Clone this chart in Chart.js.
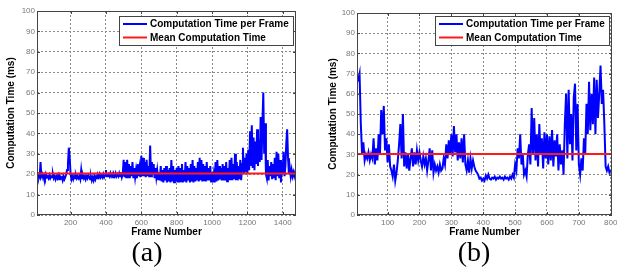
<!DOCTYPE html>
<html>
<head>
<meta charset="utf-8">
<script src="https://cdn.jsdelivr.net/npm/chart.js@4/dist/chart.umd.min.js"></script>
<style>
  html, body { margin: 0; padding: 0; background: #fff; overflow: hidden; }
  body { width: 617px; height: 269px; position: relative; }
  .wrap { position: absolute; top: 0; height: 243px; }
  #wrapA { left: 0; width: 308px; }
  #wrapB { left: 308px; width: 320px; }
  .cap { position: absolute; top: 238px; line-height: 28px; font-family: "Liberation Serif", serif; font-size: 28px; color: #000; transform: translateX(-50%); }
</style>
</head>
<body>
<div class="wrap" id="wrapA"><canvas id="chartA" width="308" height="243"></canvas></div>
<div class="wrap" id="wrapB"><canvas id="chartB" width="320" height="243"></canvas></div>
<div class="cap" style="left:147px">(a)</div>
<div class="cap" style="left:474px">(b)</div>
<script>
// (a): one sample every 5 frames, starting at frame 10
const startA = 10, stepA = 5;
const timesA = [
  21, 19, 19.5, 18.5, 26, 19, 20, 18, 19.5, 18, 20, 18.5, 19, 18, 19.5, 18, 19, 18.5, 20, 18,
  19, 17.5, 19, 18, 19.5, 17.5, 19, 18, 18.5, 17, 19, 17.5, 18.5, 20, 22, 25, 33, 28, 20, 17.5,
  19, 17.5, 19, 18, 19.5, 18, 19, 18, 19, 17.5, 22, 18, 19.5, 18, 19, 17.5, 19, 18, 19.5, 18.5,
  17.5, 19, 17, 18.5, 17, 19, 17.5, 19, 18, 19.5, 18.5, 20, 18.5, 19.5, 18.5, 20, 18.5, 19.5, 22, 19,
  19, 20, 19, 20.5, 19, 20, 18.5, 20, 19, 20.5, 19, 20, 19, 20.5, 19, 21, 18.5, 20, 27, 18.5,
  26, 18, 27, 18.5, 25, 18, 24, 19, 26, 18, 23, 18.5, 22, 18, 25, 19, 23, 18.5, 29, 19,
  28, 19, 26, 18.5, 27, 19, 24, 18.5, 34, 19, 26, 20, 25, 18, 23, 18.5, 22, 17.5, 21, 17,
  24, 16.5, 22, 16, 23, 17, 24, 16, 22, 16.5, 23, 16, 27, 16.5, 24, 16, 22, 16.5, 23, 16,
  24, 16, 23, 16.5, 25, 16, 22, 16.5, 26, 16, 24, 17, 23, 16, 25, 16.5, 27, 16, 24, 16.5,
  23, 17, 26, 16.5, 28, 17, 27, 16.5, 25, 17, 24, 16.5, 26, 17, 23, 17, 24, 16, 21, 16,
  20, 16, 26, 16.5, 27, 17, 24, 17.5, 23, 17, 25, 17, 24, 17, 26, 16.5, 23, 17, 27, 17,
  28, 17, 25, 17.5, 30, 17, 26, 17, 24, 17.5, 27, 17, 25, 33, 20, 28, 21, 30, 20, 32,
  22, 41, 24, 44, 23, 38, 22, 36, 25, 42, 24, 37, 26, 48, 27, 44, 60, 30, 45, 20,
  18, 27, 17, 24, 19, 26, 17.5, 25, 18, 28, 17, 31, 19, 30, 18, 27, 16, 26, 20, 31,
  19, 24, 35, 42, 28, 20, 23, 19, 22, 19, 21, 19, 21, 20
];
const meanA = 20.3;
const xRangeA = [10, 1475];
const xTicksA = [200, 400, 600, 800, 1000, 1200, 1400];

// (b): one sample every 4 frames, starting at frame 4
const startB = 4, stepB = 4;
const timesB = [
  68, 67, 70, 45, 30, 36, 27, 30, 28, 31, 27, 30, 28, 38, 25, 33, 27, 40, 30, 52, 40, 54, 32, 38, 26,
  35, 24, 22, 19, 25, 17, 21, 27, 35, 45, 28, 50, 24, 31, 23, 30, 22, 28, 33, 24, 31, 25, 32, 27, 31,
  27, 24, 29, 25, 28, 22, 27, 33, 22, 32, 21, 25, 22, 24, 21, 25, 22, 23, 28, 25, 35, 28, 37, 30, 40,
  29, 44, 31, 40, 27, 36, 28, 38, 26, 40, 25, 22, 27, 21, 28, 23, 27, 24, 22, 21, 20, 18, 18.5, 17, 18,
  17, 19.5, 18, 20, 18, 17.5, 18.5, 18, 19, 17.5, 18.5, 18, 19, 18, 18.5, 17.5, 19, 18, 18.5, 17.5, 19, 18, 20, 18.5, 25,
  22, 33, 28, 40, 25, 30, 20, 22, 19, 30, 35, 25, 53, 30, 48, 27, 40, 24, 45, 30, 38, 23, 41, 28, 40,
  25, 39, 27, 42, 24, 37, 29, 40, 22, 35, 25, 32, 20, 45, 60, 28, 62, 35, 50, 27, 58, 65, 32, 55, 25,
  20, 28, 22, 38, 30, 55, 40, 66, 42, 60, 45, 68, 40, 67, 48, 60, 74, 55, 62, 45, 24, 22, 24, 21, 22
];
const meanB = 30.2;
const xRangeB = [4, 804];
const xTicksB = [100, 200, 300, 400, 500, 600, 700, 800];

const yTicks = [0, 10, 20, 30, 40, 50, 60, 70, 80, 90, 100];
const seriesLabels = ['Computation Time per Frame', 'Mean Computation Time'];

const axesBox = {
  id: 'axesBox',
  afterDatasetsDraw(chart) {
    const ctx = chart.ctx;
    const a = chart.chartArea;
    const sx = chart.scales.x, sy = chart.scales.y;
    ctx.save();
    ctx.strokeStyle = '#444';
    ctx.lineWidth = 1;
    ctx.strokeRect(Math.round(a.left) + 0.5, Math.round(a.top) + 0.5,
      Math.round(a.right - a.left) - 1, Math.round(a.bottom - a.top) - 1);
    ctx.beginPath();
    sx.ticks.forEach(t => {
      const px = Math.round(sx.getPixelForValue(t.value)) + 0.5;
      ctx.moveTo(px, a.bottom); ctx.lineTo(px, a.bottom - 3);
      ctx.moveTo(px, a.top); ctx.lineTo(px, a.top + 3);
    });
    sy.ticks.forEach(t => {
      const py = Math.round(sy.getPixelForValue(t.value)) + 0.5;
      ctx.moveTo(a.left, py); ctx.lineTo(a.left + 3, py);
      ctx.moveTo(a.right, py); ctx.lineTo(a.right - 3, py);
    });
    ctx.stroke();
    ctx.restore();
  }
};

const boxLegend = {
  id: 'boxLegend',
  afterDatasetsDraw(chart, args, opts) {
    const ctx = chart.ctx;
    const a = chart.chartArea;
    const sets = chart.data.datasets;
    ctx.save();
    ctx.font = 'bold 10px "Liberation Sans", Arial, sans-serif';
    let tw = 0;
    sets.forEach(d => { tw = Math.max(tw, ctx.measureText(d.label).width); });
    const w = Math.round(31 + tw + 4), h = 29;
    const x = Math.round(a.right - opts.right - w), y = Math.round(a.top + opts.top);
    ctx.fillStyle = '#fff';
    ctx.fillRect(x, y, w, h);
    ctx.strokeStyle = '#444';
    ctx.lineWidth = 1;
    ctx.strokeRect(x + 0.5, y + 0.5, w, h);
    sets.forEach((d, i) => {
      const ly = y + 8 + i * 13.5;
      ctx.strokeStyle = d.borderColor;
      ctx.lineWidth = 2;
      ctx.beginPath();
      ctx.moveTo(x + 4, ly);
      ctx.lineTo(x + 28, ly);
      ctx.stroke();
      ctx.fillStyle = '#000';
      ctx.textBaseline = 'middle';
      ctx.fillText(d.label, x + 31, ly + 0.5);
    });
    ctx.restore();
  }
};

function makeChart(id, start, step, values, mean, xRange, xTicks, cfg) {
  const points = values.map((v, i) => ({ x: start + i * step, y: v }));
  const meanLine = [{ x: xRange[0], y: mean }, { x: xRange[1], y: mean }];
  const tickFont = { family: '"Liberation Sans", Arial, sans-serif', size: 8 };
  const titleFont = { family: '"Liberation Sans", Arial, sans-serif', size: 10, weight: 'bold' };
  const ctx = document.getElementById(id).getContext('2d');
  return new Chart(ctx, {
    type: 'line',
    data: {
      datasets: [{
        label: seriesLabels[0],
        data: points,
        borderColor: '#0000ff',
        borderWidth: 2,
        pointRadius: 0,
        tension: 0,
        order: 2
      }, {
        label: seriesLabels[1],
        data: meanLine,
        borderColor: '#ff1a1a',
        borderWidth: 2,
        pointRadius: 0,
        order: 1
      }]
    },
    options: {
      responsive: false,
      animation: false,
      events: [],
      layout: { padding: cfg.pad },
      plugins: {
        legend: { display: false },
        tooltip: { enabled: false },
        boxLegend: cfg.legend
      },
      scales: {
        x: {
          type: 'linear',
          bounds: 'data',
          min: xRange[0],
          max: xRange[1],
          afterBuildTicks: s => { s.ticks = xTicks.map(v => ({ value: v })); },
          afterFit: s => { s.height = 28; },
          grid: { color: '#8a8a8a', drawTicks: false, tickLength: 0 },
          border: { display: false, dash: [2, 2] },
          ticks: { font: tickFont, color: '#777', padding: 3, maxRotation: 0, callback: v => String(v) },
          title: { display: true, text: 'Frame Number', font: titleFont, color: '#000', padding: { top: 0, bottom: 4.5 } }
        },
        y: {
          type: 'linear',
          bounds: 'data',
          min: 0,
          max: 100,
          afterBuildTicks: s => { s.ticks = yTicks.map(v => ({ value: v })); },
          afterFit: s => { s.width = cfg.yWidth; },
          grid: { color: '#8a8a8a', drawTicks: false, tickLength: 0 },
          border: { display: false, dash: [2, 2] },
          ticks: { font: tickFont, color: '#777', padding: 2, callback: v => String(v) },
          title: { display: true, text: 'Computation Time (ms)', font: titleFont, color: '#000', padding: { top: cfg.yTitlePad, bottom: 0 } }
        }
      }
    },
    plugins: [axesBox, boxLegend]
  });
}

makeChart('chartA', startA, stepA, timesA, meanA, xRangeA, xTicksA, {
  pad: { top: 11, right: 12, left: 0, bottom: 0 },
  yWidth: 37,
  yTitlePad: 5,
  legend: { top: 5, right: 3 }
});

makeChart('chartB', startB, stepB, timesB, meanB, xRangeB, xTicksB, {
  pad: { top: 13, right: 16, left: 0, bottom: 0 },
  yWidth: 49,
  yTitlePad: 19,
  legend: { top: 3, right: 3 }
});
</script>
</body>
</html>
